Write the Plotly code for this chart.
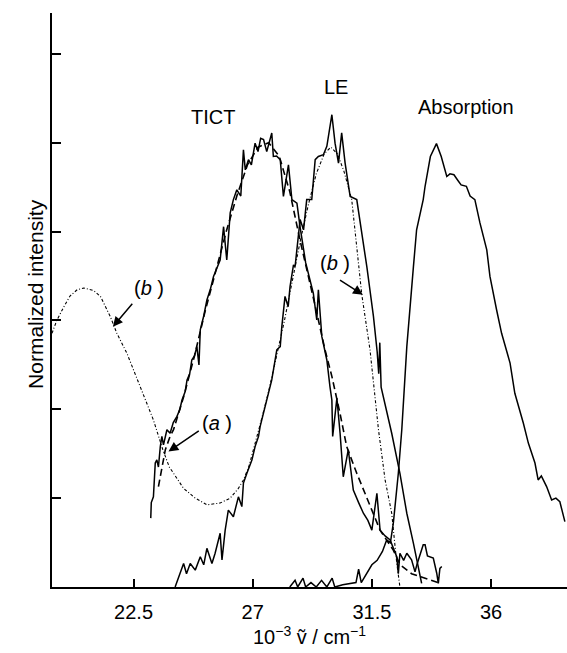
import plotly.graph_objects as go

# ---- data (wavenumber in 10^3 cm^-1, normalized intensity) ----
tict_v = [23.15, 23.17, 23.25, 23.32, 23.38, 23.44, 23.51, 23.57, 23.63, 23.76, 23.88, 24.0, 24.14, 24.25,
          24.33, 24.45, 24.52, 24.62, 24.70, 24.80, 24.89, 24.97, 25.02, 25.15, 25.27, 25.40, 25.52, 25.65,
          25.77, 25.90, 26.02, 26.15, 26.27, 26.40, 26.55, 26.65, 26.72, 26.84, 26.95, 27.09, 27.2, 27.3,
          27.41, 27.53, 27.72, 27.78, 27.9, 28.04, 28.16, 28.35, 28.48, 28.67, 28.79, 29.0, 29.17, 29.29,
          29.42, 29.48, 29.61, 29.80, 29.92, 29.99, 30.02, 30.1, 30.18, 30.30, 30.42, 30.61, 30.80, 31.0,
          31.18, 31.35, 31.50, 31.69, 31.81, 32.0, 32.19, 32.44, 32.5, 32.56, 32.7, 32.82, 33.0, 33.13,
          33.2, 33.44, 33.51, 33.6, 33.70, 33.82, 33.95, 34.01, 34.07, 34.14]
tict_i = [0.155, 0.19, 0.203, 0.279, 0.286, 0.27, 0.316, 0.339, 0.32, 0.354, 0.346, 0.37, 0.384, 0.40,
          0.421, 0.44, 0.466, 0.48, 0.511, 0.52, 0.541, 0.50, 0.579, 0.61, 0.646, 0.67, 0.699, 0.72,
          0.736, 0.811, 0.736, 0.842, 0.872, 0.894, 0.88, 0.984, 0.939, 0.962, 0.95, 0.999, 0.98, 1.01,
          1.007, 0.980, 1.022, 0.969, 0.97, 0.962, 0.879, 0.950, 0.872, 0.864, 0.81, 0.73, 0.69, 0.661,
          0.601, 0.669, 0.564, 0.511, 0.45, 0.421, 0.339, 0.38, 0.425, 0.346, 0.248, 0.309, 0.218, 0.19,
          0.166, 0.15, 0.128, 0.211, 0.128, 0.115, 0.106, 0.068, 0.03, 0.076, 0.06, 0.076, 0.061, 0.034,
          0.05, 0.095, 0.095, 0.07, 0.068, 0.065, 0.031, 0.008, 0.042, 0.046]

tict_fit_v = [23.44, 23.57, 23.70, 23.88, 24.01, 24.4, 24.8, 25.2, 25.6, 26.0, 26.4, 26.8, 27.2, 27.6,
              28.0, 28.4, 28.79, 29.17, 29.42, 29.73, 29.99, 30.3, 30.55, 30.93, 31.43, 31.81, 32.31,
              32.57, 33.0, 33.7, 34.0]
tict_fit_i = [0.226, 0.264, 0.309, 0.339, 0.354, 0.43, 0.52, 0.62, 0.71, 0.80, 0.88, 0.95, 0.99, 1.0,
              0.97, 0.89, 0.78, 0.685, 0.617, 0.534, 0.474, 0.39, 0.316, 0.256, 0.181, 0.128, 0.083,
              0.05, 0.03, 0.016, 0.01]

le_v = [24.07, 24.2, 24.39, 24.5, 24.64, 24.83, 25.02, 25.15, 25.27, 25.46, 25.58, 25.77, 25.84, 25.96,
        26.08, 26.27, 26.46, 26.59, 26.65, 26.78, 26.97, 27.09, 27.22, 27.28, 27.53, 27.72, 27.91, 28.04,
        28.10, 28.22, 28.34, 28.41, 28.54, 28.60, 28.79, 28.92, 29.04, 29.23, 29.36, 29.48, 29.67, 29.80,
        29.99, 30.11, 30.24, 30.36, 30.49, 30.68, 30.93, 31.31, 31.56, 31.70, 31.76, 31.80, 31.85, 32.25,
        32.56, 32.82, 33.07, 33.38]
le_i = [0.0, 0.02, 0.053, 0.03, 0.053, 0.038, 0.068, 0.05, 0.087, 0.053, 0.076, 0.121, 0.061, 0.128,
        0.173, 0.158, 0.203, 0.181, 0.234, 0.256, 0.286, 0.316, 0.339, 0.361, 0.421, 0.466, 0.534, 0.541,
        0.586, 0.654, 0.631, 0.676, 0.725, 0.721, 0.827, 0.804, 0.872, 0.872, 0.962, 0.969, 0.973, 0.992,
        1.063, 0.999, 0.954, 1.022, 0.954, 0.879, 0.872, 0.721, 0.609, 0.53, 0.48, 0.55, 0.45, 0.346,
        0.256, 0.166, 0.098, 0.008]

exc_v = [19.42, 19.6, 19.87, 20.1, 20.37, 20.62, 21.0, 21.25, 21.62, 21.87, 22.25, 22.75, 23.25, 23.6,
         23.85, 24.01, 24.39, 24.83, 25.27, 25.77, 26.15, 26.46, 26.65, 26.85, 27.03, 27.3, 27.6, 27.9,
         28.2, 28.5, 28.8, 29.1, 29.4, 29.7, 29.95, 30.2, 30.45, 30.74, 31.12, 31.43, 31.75, 32.0, 32.25,
         32.44, 32.56]
exc_i = [0.571, 0.60, 0.631, 0.655, 0.669, 0.673, 0.667, 0.654, 0.609, 0.571, 0.526, 0.451, 0.376, 0.31,
         0.27, 0.256, 0.222, 0.20, 0.185, 0.189, 0.20, 0.222, 0.241, 0.27, 0.309, 0.37, 0.44, 0.52,
         0.60, 0.69, 0.78, 0.86, 0.93, 0.975, 0.99, 0.975, 0.935, 0.872, 0.658, 0.534, 0.354, 0.241, 0.166,
         0.054, 0.0]

abs_v = [28.4, 28.6, 28.7, 28.9, 29.0, 29.2, 29.4, 29.6, 29.8, 30.0, 30.1, 30.4, 30.9, 31.0, 31.1, 31.3,
         31.5, 31.7, 31.9, 32.06, 32.2, 32.31, 32.5, 32.63, 32.82, 33.07, 33.19, 33.44, 33.51, 33.71, 33.94,
         34.12, 34.33, 34.45, 34.60, 34.75, 34.87, 35.07, 35.21, 35.39, 35.58, 35.84, 35.96, 36.21, 36.40,
         36.72, 36.90, 37.22, 37.41, 37.66, 37.78, 37.9, 38.10, 38.29, 38.45, 38.60, 38.79]
abs_i = [0.0, 0.015, 0.0, 0.02, 0.0, 0.01, 0.0, 0.015, 0.0, 0.02, 0.0, 0.005, 0.01, 0.04, 0.01, 0.03,
         0.05, 0.06, 0.08, 0.106, 0.10, 0.143, 0.256, 0.354, 0.541, 0.721, 0.804, 0.872, 0.902, 0.969, 0.998,
         0.969, 0.924, 0.93, 0.928, 0.915, 0.905, 0.902, 0.88, 0.872, 0.82, 0.759, 0.699, 0.624, 0.571,
         0.504, 0.436, 0.369, 0.324, 0.279, 0.241, 0.25, 0.226, 0.196, 0.20, 0.192, 0.147]

x_ticks = [22.5, 27, 31.5, 36]
x_tick_text = ["22.5", "27", "31.5", "36"]
y_ticks = [0.2, 0.4, 0.6, 0.8, 1.0, 1.2]

FONT = "Liberation Sans, Arial, Helvetica, sans-serif"

fig = go.Figure()
fig.add_trace(go.Scatter(x=exc_v, y=exc_i, mode="lines",
                         line=dict(color="black", width=1.1, dash="3px,2px,1px,2px")))
fig.add_trace(go.Scatter(x=tict_fit_v, y=tict_fit_i, mode="lines",
                         line=dict(color="black", width=1.6, dash="7px,4px")))
fig.add_trace(go.Scatter(x=tict_v, y=tict_i, mode="lines", line=dict(color="black", width=1.5)))
fig.add_trace(go.Scatter(x=le_v, y=le_i, mode="lines", line=dict(color="black", width=1.5)))
fig.add_trace(go.Scatter(x=abs_v, y=abs_i, mode="lines", line=dict(color="black", width=1.5)))

ann = []
for txt, xv, yv in [("TICT", 25.51, 1.059), ("LE", 30.15, 1.126), ("Absorption", 35.07, 1.081),
                    ("(<i>b</i> )", 23.07, 0.673), ("(<i>a</i> )", 25.65, 0.369), ("(<i>b</i> )", 30.11, 0.729)]:
    ann.append(dict(x=xv, y=yv, xref="x", yref="y", text=txt, showarrow=False,
                    font=dict(family=FONT, size=20, color="black")))
for hx, hy, tx, ty in [(21.72, 0.586, 22.5, 0.641), (23.82, 0.305, 25.02, 0.354), (31.16, 0.658, 30.24, 0.693)]:
    ann.append(dict(x=hx, y=hy, xref="x", yref="y", ax=tx, ay=ty, axref="x", ayref="y", text="",
                    showarrow=True, arrowhead=2, arrowsize=1.3, arrowwidth=1.5, arrowcolor="black"))
ann.append(dict(x=-0.058, y=0.51, xref="paper", yref="paper", text="Normalized intensity", textangle=-90,
                showarrow=False, font=dict(family=FONT, size=21, color="black")))
ann.append(dict(x=0.5, y=-0.1095, xref="paper", yref="paper", yanchor="bottom",
                text="10<sup>−3</sup> ṽ / cm<sup>−1</sup>", showarrow=False,
                font=dict(family=FONT, size=20, color="black")))
fig.update_layout(annotations=ann)

fig.update_layout(
    width=567, height=653, showlegend=False,
    margin=dict(l=52, r=0, t=13, b=66),
    paper_bgcolor="white", plot_bgcolor="white",
    xaxis=dict(range=[19.42, 38.87], showgrid=False, zeroline=False, showline=True, linecolor="black",
               linewidth=2, ticks="inside", ticklen=8, tickwidth=2, tickcolor="black",
               tickvals=x_ticks, ticktext=x_tick_text, ticklabelstandoff=6,
               tickfont=dict(family=FONT, size=20, color="black")),
    yaxis=dict(range=[0, 1.292], showgrid=False, zeroline=False, showline=True, linecolor="black",
               linewidth=2, ticks="inside", ticklen=9, tickwidth=2, tickcolor="black",
               tickvals=y_ticks, showticklabels=False),
)
fig.write_html("out.html")
